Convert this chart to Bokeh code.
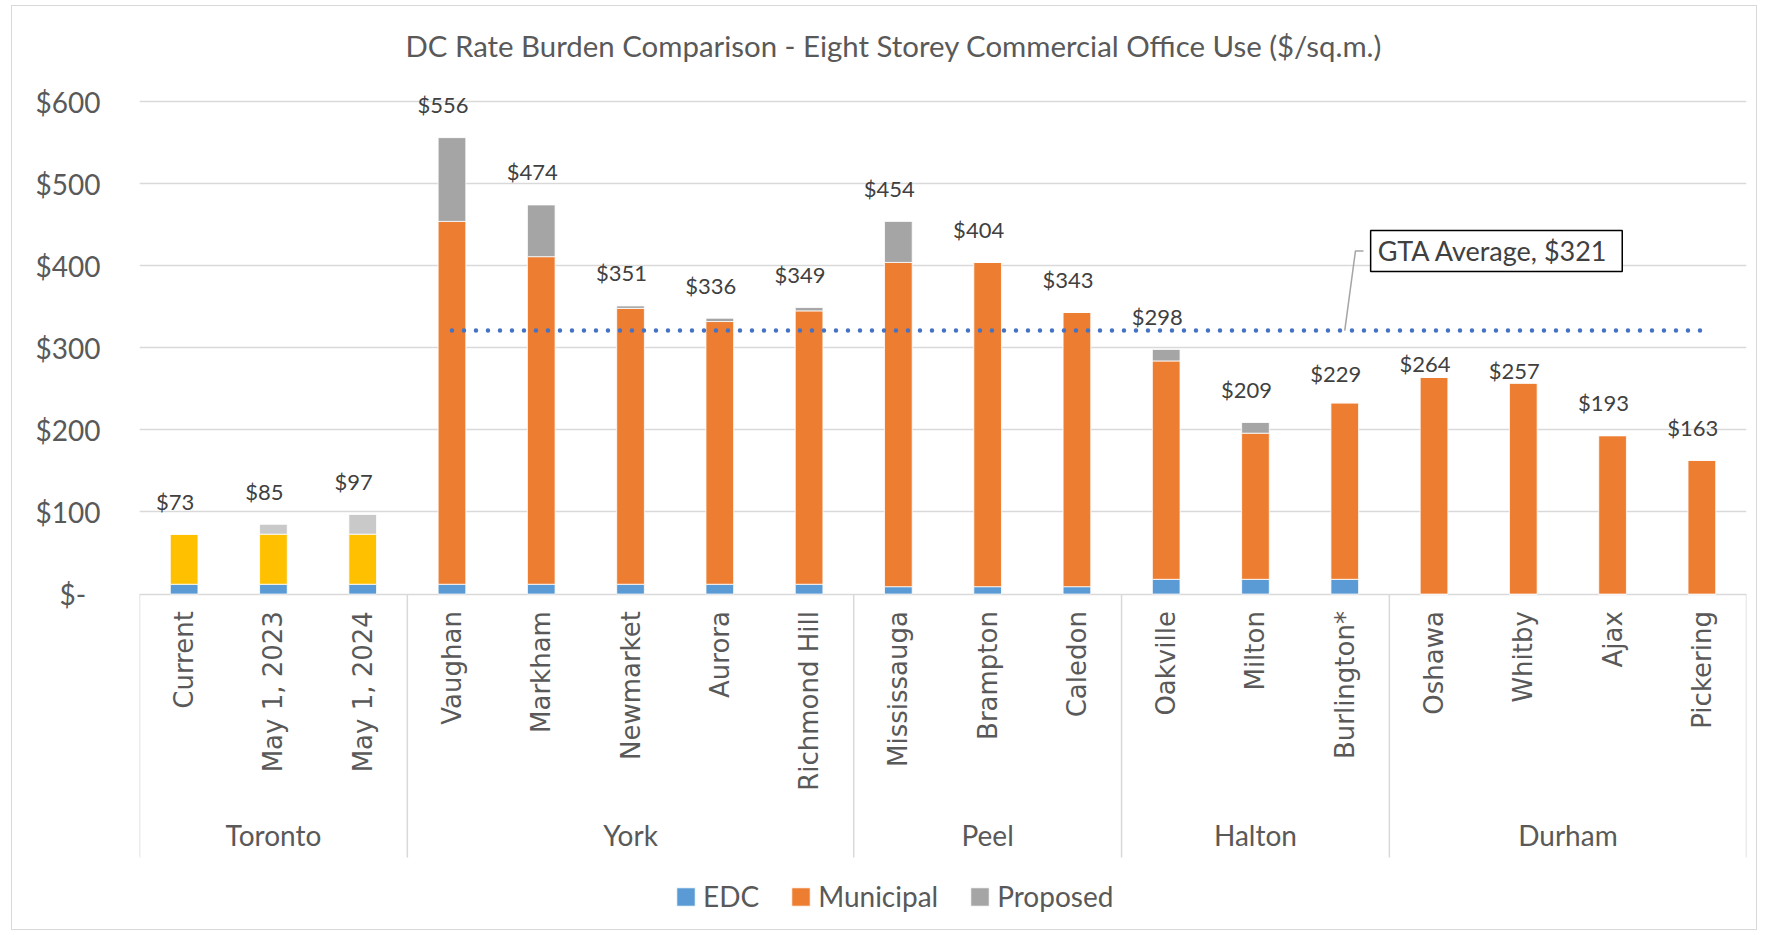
import math
from bokeh.plotting import figure
from bokeh.models import (FactorRange, Range1d, FixedTicker, ColumnDataSource,
                          Legend, LegendItem, Label)
from bokeh.core.properties import value
from bokeh.embed import file_html
from bokeh.resources import INLINE

# ---------------- data ----------------
groups = ["Toronto", "York", "Peel", "Halton", "Durham"]
group_sizes = [3, 5, 3, 3, 4]
categories = ["Current", "May 1, 2023", "May 1, 2024",
              "Vaughan", "Markham", "Newmarket", "Aurora", "Richmond Hill",
              "Mississauga", "Brampton", "Caledon",
              "Oakville", "Milton", "Burlington*",
              "Oshawa", "Whitby", "Ajax", "Pickering"]
edc = [12, 12, 12, 12, 12, 12, 12, 12, 9, 9, 9, 18, 18, 18, 0, 0, 0, 0]
municipal = [61, 61, 61, 442, 399, 336, 320, 333, 395, 395, 334, 266, 178, 215, 264, 257, 193, 163]
proposed = [0, 12, 24, 102, 63, 3, 4, 4, 50, 0, 0, 14, 13, 0, 0, 0, 0, 0]
totals = [73, 85, 97, 556, 474, 351, 336, 349, 454, 404, 343, 298, 209, 229, 264, 257, 193, 163]
gta_average = 321
y_ticks = [0, 100, 200, 300, 400, 500, 600]

# ---------------- styles ----------------
C_EDC = "#5B9BD5"
C_MUN = "#ED7D31"
C_MUN_TOR = "#FFC000"
C_PROP = "#A5A5A5"
C_PROP_TOR = "#C9C9C9"
C_TEXT = "#595959"
C_LABEL = "#404040"
C_GRID = "#D9D9D9"
FONT = "Lato"
CAT_FONT = "DejaVu Sans"
label_offsets = [33] * len(categories)
label_offsets[categories.index("Oshawa")] = 14
label_offsets[categories.index("Whitby")] = 13

cat_group = []
for g, n in zip(groups, group_sizes):
    cat_group += [g] * n

mun_bottom = edc
mun_top = [e + m for e, m in zip(edc, municipal)]
prop_top = [t + pr for t, pr in zip(mun_top, proposed)]

src = ColumnDataSource(dict(
    cat=categories,
    edc=edc,
    mun_bottom=mun_bottom,
    mun_top=mun_top,
    prop_top=prop_top,
    mun_color=[C_MUN_TOR if g == "Toronto" else C_MUN for g in cat_group],
    prop_color=[C_PROP_TOR if g == "Toronto" else C_PROP for g in cat_group],
    total=totals,
    label=["$" + str(t) for t in totals],
    label_off=[-o for o in label_offsets],
))

# frame: value axis 0..600 on top part, category-label band below zero
Y_MIN, Y_MAX = -411, 639
SEP_BOTTOM = -321

p = figure(x_range=FactorRange(factors=categories, range_padding=0),
           y_range=Range1d(Y_MIN, Y_MAX),
           width=1746, height=925,
           output_backend="svg", toolbar_location=None,
           x_axis_location=None,
           min_border_left=127, min_border_right=12,
           min_border_top=63, min_border_bottom=0,
           outline_line_color=None,
           title="DC Rate Burden Comparison - Eight Storey Commercial Office Use ($/sq.m.)")
p.margin = (5, 0, 0, 11)
p.styles = {"border": "1.5px solid #D9D9D9"}

p.title.text_font = FONT
p.title.text_font_size = "29.4px"
p.title.text_font_style = "normal"
p.title.text_color = C_TEXT
p.title.align = "left"
p.title.offset = 266
p.title.standoff = 14

# y axis
p.yaxis.ticker = FixedTicker(ticks=y_ticks)
p.yaxis.major_label_overrides = {t: ("$" + str(t) if t else "$-\u00a0\u00a0") for t in y_ticks}
p.yaxis.axis_line_color = None
p.yaxis.major_tick_line_color = None
p.yaxis.minor_tick_line_color = None
p.yaxis.major_label_standoff = 33
p.yaxis.major_label_text_font = FONT
p.yaxis.major_label_text_font_size = "28px"
p.yaxis.major_label_text_color = C_TEXT
p.ygrid.grid_line_color = C_GRID
p.ygrid.grid_line_width = 1.5
p.xgrid.visible = False

W = 0.31
r_edc = p.vbar(x="cat", bottom=0, top="edc", width=W, source=src,
               fill_color=C_EDC, line_color="white", line_width=0.8)
r_mun = p.vbar(x="cat", bottom="mun_bottom", top="mun_top", width=W, source=src,
               fill_color="mun_color", line_color="white", line_width=0.8)
r_prop = p.vbar(x="cat", bottom="mun_top", top="prop_top", width=W, source=src,
                fill_color="prop_color", line_color="white", line_width=0.8)

# GTA average dotted line
p.line(x=["Vaughan", "Pickering"], y=[gta_average, gta_average],
       line_color="#4472C4", line_width=4.5, line_dash="0 12", line_cap="round")

# leader line + label for average
bi = categories.index("Burlington*") + 0.5
p.line(x=[bi, bi + 0.12, bi + 0.21], y=[gta_average, gta_average + 97, gta_average + 97],
       line_color="#A5A5A5", line_width=1.5)
p.add_layout(Label(x=bi + 0.29, y=gta_average + 97, text="GTA Average,  $" + str(gta_average),
                   text_font=FONT, text_font_size="27px", text_color=C_LABEL,
                   text_align="left", text_baseline="middle",
                   background_fill_color="white", border_line_color="black",
                   border_line_width=1.5, padding=(7, 4)))

# data labels
p.text(x="cat", y="total", text="label", source=src, x_offset=-9, y_offset="label_off",
       text_align="center", text_baseline="middle",
       text_font=value(FONT), text_font_size="22px", text_color=C_LABEL)

# category axis (Excel-style multi-level)
bounds = [0]
for n in group_sizes:
    bounds.append(bounds[-1] + n)
p.segment(x0=bounds, y0=[0] * len(bounds), x1=bounds, y1=[SEP_BOTTOM] * len(bounds),
          line_color=C_GRID, line_width=1.5)
p.text(x="cat", y=0, text="cat", source=src, angle=math.pi / 2, y_offset=17,
       text_align="right", text_baseline="middle",
       text_font=value(CAT_FONT), text_font_size="26px", text_color=C_TEXT)
centers = [(a + b) / 2 for a, b in zip(bounds[:-1], bounds[1:])]
p.text(x=centers, y=[0] * len(centers), text=groups, y_offset=241,
       text_align="center", text_baseline="middle",
       text_font=value(FONT), text_font_size="28px", text_color=C_TEXT)

legend = Legend(items=[
    LegendItem(label="EDC", renderers=[r_edc], index=3),
    LegendItem(label="Municipal", renderers=[r_mun], index=3),
    LegendItem(label="Proposed", renderers=[r_prop], index=3),
], orientation="horizontal", location=(535, 18))
legend.label_text_font = FONT
legend.label_text_font_size = "28px"
legend.label_text_color = C_TEXT
legend.glyph_width = 23
legend.glyph_height = 23
legend.label_standoff = 6
legend.spacing = 30
legend.padding = 0
legend.margin = 0
legend.border_line_color = None
legend.background_fill_alpha = 0
p.add_layout(legend, "center")

open("out.html", "w").write(file_html(p, INLINE))
